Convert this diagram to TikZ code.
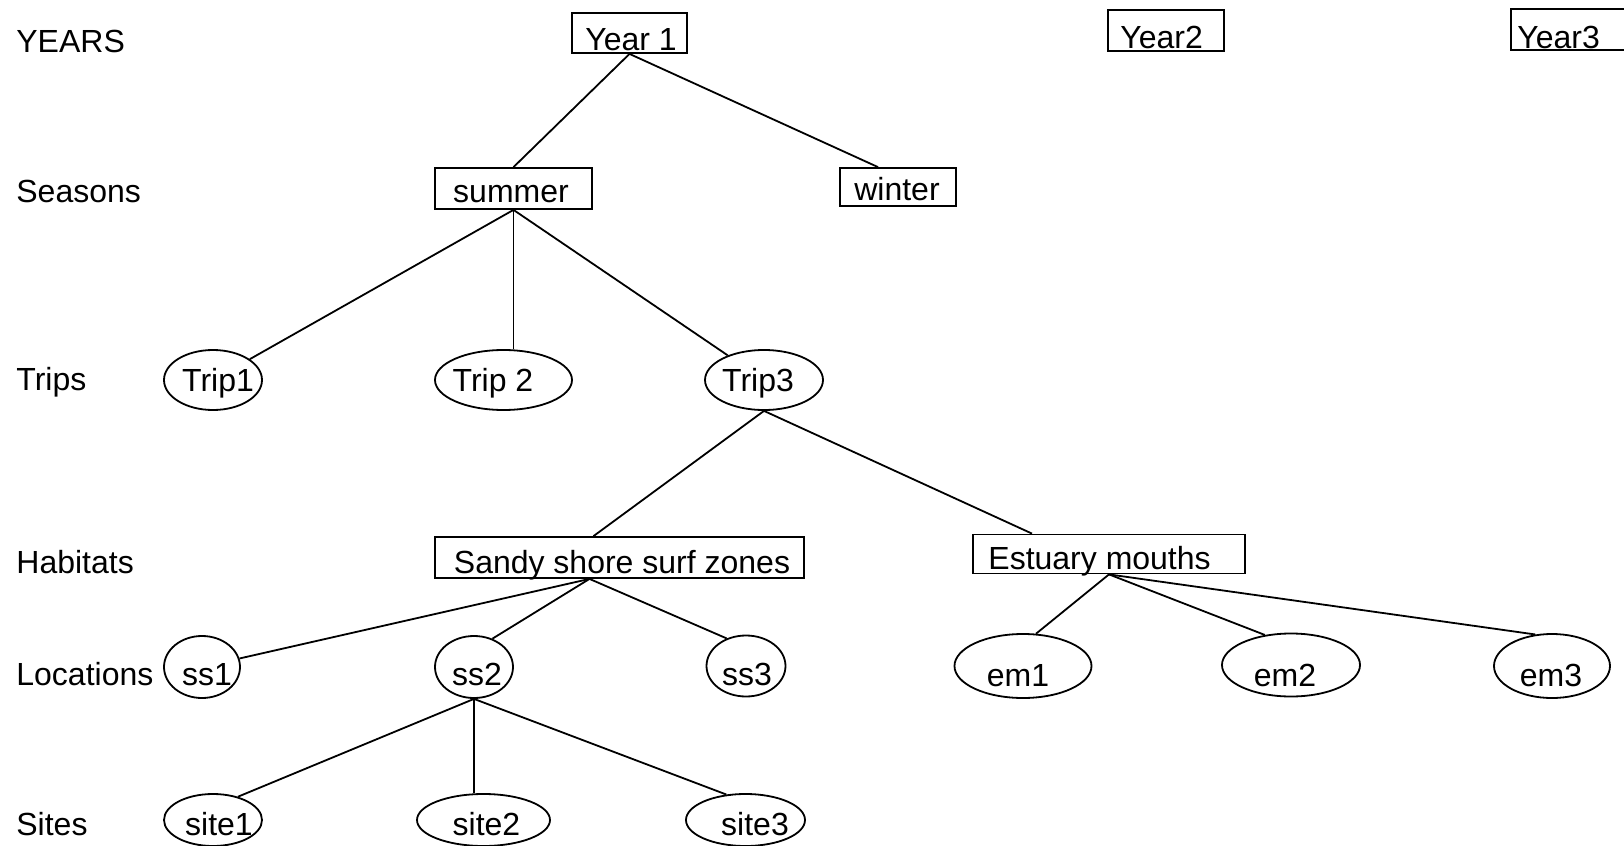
\documentclass[tikz,border=0pt]{standalone}
\usepackage{fontspec}
\setmainfont{Liberation Sans}
\usetikzlibrary{shapes.geometric}
\begin{document}
\begin{tikzpicture}[x=0.5pt,y=-0.5pt,
  box/.style={draw, rectangle, line width=0.9pt, inner sep=0pt},
  oval/.style={draw, ellipse, line width=0.9pt, inner sep=0pt},
  txt/.style={anchor=base, inner sep=0pt, font=\fontsize{16}{19}\selectfont},
  rowlab/.style={anchor=base west, inner sep=0pt, font=\fontsize{16}{19}\selectfont},
  conn/.style={line width=0.9pt}]
\useasboundingbox (0,0) rectangle (1624,846);
% row labels
\node[rowlab] (lYears) at (16,52) {YEARS};
\node[rowlab] (lSeasons) at (16,202) {Seasons};
\node[rowlab] (lTrips) at (16,390) {Trips};
\node[rowlab] (lHab) at (16,573) {Habitats};
\node[rowlab] (lLoc) at (16,685) {Locations};
\node[rowlab] (lSites) at (16,835) {Sites};
% years
\node[box, minimum width=57.5pt, minimum height=20pt] (year1) at (629.5,33) {};
\node[txt] (year1t) at (631,50) {Year 1};
\node[box, minimum width=58pt, minimum height=20.5pt] (year2) at (1166,30.5) {};
\node[txt, anchor=base west] (year2t) at (1120,48) {Year2};
\node[box, minimum width=58pt, minimum height=20.5pt] (year3) at (1569,29.5) {};
\node[txt, anchor=base west] (year3t) at (1517,48) {Year3};
% seasons
\node[box, minimum width=78.5pt, minimum height=20.5pt] (summer) at (513.5,188.5) {};
\node[txt] (summert) at (511,202) {summer};
\node[box, minimum width=58pt, minimum height=19pt] (winter) at (898,187) {};
\node[txt] (wintert) at (897,200) {winter};
% trips
\node[oval, minimum width=49pt, minimum height=30pt] (trip1) at (213,380) {};
\node[txt] (trip1t) at (218,391) {Trip1};
\node[oval, minimum width=68.5pt, minimum height=30pt] (trip2) at (503.5,380) {};
\node[txt] (trip2t) at (493,391) {Trip 2};
\node[oval, minimum width=59pt, minimum height=30pt] (trip3) at (764,380) {};
\node[txt] (trip3t) at (758,391) {Trip3};
% habitats
\node[box, minimum width=184.5pt, minimum height=20.5pt] (sandy) at (619.5,557.5) {};
\node[txt] (sandyt) at (622,573) {Sandy shore surf zones};
\node[box, minimum width=136pt, minimum height=19.5pt] (estuary) at (1109,554) {};
\node[txt, anchor=base west] (estuaryt) at (988,569) {Estuary mouths};
% locations
\node[oval, minimum width=38pt, minimum height=31pt] (ss1) at (202,667) {};
\node[txt] (ss1t) at (207,685) {ss1};
\node[oval, minimum width=39pt, minimum height=31pt] (ss2) at (474,667) {};
\node[txt] (ss2t) at (477,685) {ss2};
\node[oval, minimum width=39.5pt, minimum height=30.5pt] (ss3) at (746,666) {};
\node[txt] (ss3t) at (747,685) {ss3};
\node[oval, minimum width=68.5pt, minimum height=32pt] (em1) at (1023,666) {};
\node[txt] (em1t) at (1018,686) {em1};
\node[oval, minimum width=69pt, minimum height=31.5pt] (em2) at (1291,665) {};
\node[txt] (em2t) at (1285,686) {em2};
\node[oval, minimum width=58pt, minimum height=32pt] (em3) at (1552,666) {};
\node[txt] (em3t) at (1551,686) {em3};
% sites
\node[oval, minimum width=49pt, minimum height=26pt] (site1) at (213,820) {};
\node[txt] (site1t) at (219,835) {site1};
\node[oval, minimum width=66.5pt, minimum height=26pt] (site2) at (483.5,820) {};
\node[txt] (site2t) at (486.5,835) {site2};
\node[oval, minimum width=59.5pt, minimum height=26pt] (site3) at (745.5,820) {};
\node[txt] (site3t) at (755,835) {site3};
% connectors
\draw[conn] (year1.south) -- (summer.north);
\draw[conn] (year1.south) -- ([xshift=-10pt]winter.north);
\draw[conn] (summer.south) -- (trip1);
\draw[conn] (summer.south) -- (summer.south |- trip2.north);
\draw[conn] (summer.south) -- (trip3);
\draw[conn] (trip3.south) -- ([xshift=-13pt]sandy.north);
\draw[conn] (trip3.south) -- ([xshift=-38.5pt]estuary.north);
\coordinate (sA) at ([xshift=-15pt]sandy.south);
\draw[conn] (sA) -- (ss1);
\draw[conn] (sA) -- (ss2.57);
\draw[conn] (sA) -- (ss3.125);
\draw[conn] (ss2.south) -- (site1.43);
\draw[conn] (ss2.south) -- (ss2.south |- site2.north);
\draw[conn] (ss2.south) -- (site3.127);
\draw[conn] (estuary.south) -- (em1.68);
\draw[conn] (estuary.south) -- (em2.131);
\draw[conn] (estuary.south) -- (em3.118);
\end{tikzpicture}
\end{document}
